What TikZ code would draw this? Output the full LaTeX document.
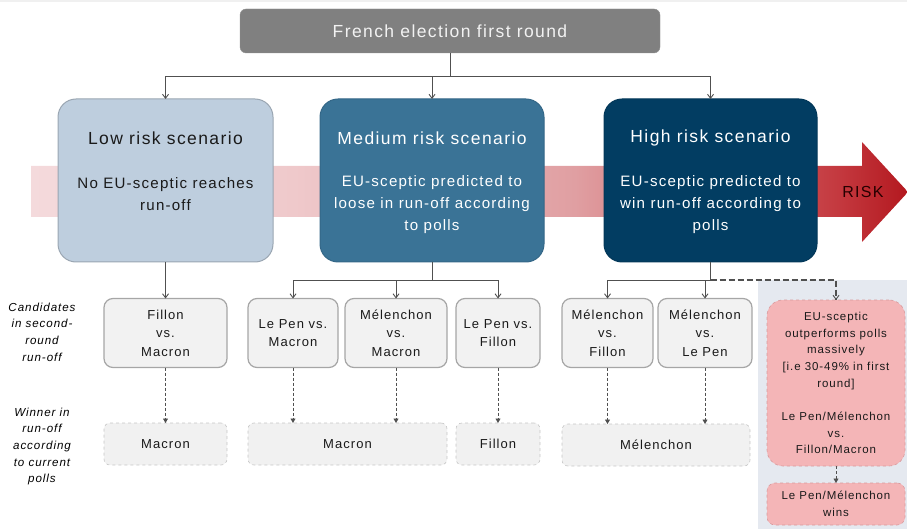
\documentclass[tikz,border=0pt]{standalone}
\usepackage{fontspec}
\setmainfont{Liberation Sans}[LetterSpace=8]
\usetikzlibrary{arrows.meta,calc}
\definecolor{titlefill}{HTML}{808080}
\definecolor{lowfill}{HTML}{BECEDE}
\definecolor{lowdraw}{HTML}{9AA6B2}
\definecolor{medfill}{HTML}{3A7396}
\definecolor{highfill}{HTML}{023D62}
\definecolor{candfill}{HTML}{F2F2F2}
\definecolor{canddraw}{HTML}{A6A6A6}
\definecolor{winfill}{HTML}{F1F1F1}
\definecolor{windraw}{HTML}{C6C6C6}
\definecolor{pinkfill}{HTML}{F4B5B7}
\definecolor{pinkdraw}{HTML}{D99A9D}
\definecolor{panelfill}{HTML}{E5E9F0}
\definecolor{connc}{HTML}{505050}
\definecolor{txt}{HTML}{1A1A1A}
\definecolor{rA}{HTML}{F4DADC}
\definecolor{rB}{HTML}{EFC9CB}
\definecolor{rC}{HTML}{E09FA2}
\definecolor{rD}{HTML}{C4393F}
\definecolor{rE}{HTML}{B3181F}
\definecolor{stripc}{HTML}{F0F0F0}
\pgfdeclarehorizontalshading{riskshade}{100bp}{color(0bp)=(rA); color(25bp)=(rA); color(40bp)=(rB); color(56bp)=(rC); color(71bp)=(rD); color(75bp)=(rE); color(100bp)=(rE)}
\begin{document}
\begin{tikzpicture}[x=1pt,y=-1pt,
  box/.style={inner sep=0pt, outer sep=0pt, align=center},
  titlebox/.style={box, fill=titlefill, draw=titlefill!85!white, rounded corners=6pt, text=white!95!black, font=\fontsize{17.5}{20}\selectfont},
  scen/.style={box, rounded corners=18pt, line width=1pt},
  scentitle/.style={align=center, inner sep=0pt, font=\fontsize{17.5}{20}\selectfont},
  scenbody/.style={align=center, inner sep=0pt, font=\fontsize{15.1}{22}\selectfont},
  cand/.style={box, fill=candfill, draw=canddraw, line width=1.2pt, rounded corners=9pt, text=txt, font=\fontsize{13}{18.5}\selectfont, minimum height=69pt},
  win/.style={box, fill=winfill, draw=windraw, dashed, line width=0.6pt, rounded corners=6pt, text=txt, font=\fontsize{13}{18.5}\selectfont, minimum height=42pt},
  pinkbox/.style={box, fill=pinkfill, draw=pinkdraw, dashed, line width=0.6pt, text=txt, font=\fontsize{11.5}{16.7}\selectfont, minimum width=138pt},
  sidelab/.style={align=center, inner sep=0pt, text=black, font=\fontsize{11.6}{16.7}\selectfont\itshape},
  conn/.style={draw=connc, line width=0.9pt, -{Straight Barb[length=4pt,width=6pt]}},
  hconn/.style={draw=connc, line width=1.4pt, dash pattern=on 6pt off 3pt, -{Straight Barb[length=4pt,width=6pt,line width=0.9pt]}},
  wconn/.style={draw=connc, line width=0.9pt, dash pattern=on 3pt off 2pt, -{Triangle[length=4.5pt,width=5pt]}}
]
\useasboundingbox (0,0) rectangle (907,529);
\fill[stripc] (0,0) rectangle (907,2.5);

% risk arrow
\shade[shading=riskshade] (31,166) -- (862,166) -- (862,142) -- (908,192) -- (862,242) -- (862,217) -- (31,217) -- cycle;
\node[font=\fontsize{16}{16}\selectfont, text=black!85!red, inner sep=0pt] (risk) at (863,192) {RISK};

% right panel
\fill[panelfill] (758,280) rectangle (907,529);

% title
\node[titlebox, minimum width=420pt, minimum height=44pt] (title) at (450,31) {French election first round};

% scenario boxes
\node[scen, fill=lowfill, draw=lowdraw, minimum width=215pt, minimum height=163pt] (low) at (165.5,180.5) {};
\node[scen, fill=medfill, draw=medfill!90!black, minimum width=224pt, minimum height=163pt] (med) at (432,180.5) {};
\node[scen, fill=highfill, draw=highfill!90!black, minimum width=213pt, minimum height=163pt] (high) at (710.5,180.5) {};

\node[scentitle, text=txt] (lowt) at (165.5,138) {Low risk scenario};
\node[scenbody, text=txt] (lowb) at (165.5,194) {No EU-sceptic reaches\\run-off};
\node[scentitle, text=white] (medt) at (432,138) {Medium risk scenario};
\node[scenbody, text=white] (medb) at (432,205) {EU-sceptic predicted to\\loose in run-off according\\to polls};
\node[scentitle, text=white] (hight) at (710.5,138) {High risk scenario};
\node[scenbody, text=white] (highb) at (710.5,205) {EU-sceptic predicted to\\win run-off according to\\polls};

% candidate boxes
\node[cand, minimum width=123pt] (c1) at (165.5,333) {Fillon\\vs.\\Macron};
\node[cand, minimum width=90pt] (c2) at (293,333) {Le Pen vs.\\Macron};
\node[cand, minimum width=102pt] (c3) at (396,333) {Mélenchon\\vs.\\Macron};
\node[cand, minimum width=84pt] (c4) at (498,333) {Le Pen vs.\\Fillon};
\node[cand, minimum width=91pt] (c5) at (607.5,333) {Mélenchon\\vs.\\Fillon};
\node[cand, minimum width=94pt] (c6) at (705,333) {Mélenchon\\vs.\\Le Pen};

% winner boxes
\node[win, minimum width=123pt] (w1) at (165.5,444) {Macron};
\node[win, minimum width=199pt] (w2) at (347.5,444) {Macron};
\node[win, minimum width=84pt] (w3) at (498,444) {Fillon};
\node[win, minimum width=188pt] (w4) at (656,445) {Mélenchon};

% pink boxes
\node[pinkbox, minimum height=166pt, rounded corners=16pt] (p1) at (836,383) {EU-sceptic\\outperforms polls\\massively\\{[i.e 30-49\% in first}\\round]\\[16.7pt]Le Pen/Mélenchon\\vs.\\Fillon/Macron};
\node[pinkbox, minimum height=42pt, rounded corners=8pt] (p2) at (836,504) {Le Pen/Mélenchon\\wins};

% side labels
\node[sidelab] (lab1) at (42,332) {Candidates\\in second-\\round\\run-off};
\node[sidelab] (lab2) at (42,446.5) {Winner in\\run-off\\according\\to current\\polls};

% connectors
\draw[conn] (title.south) -- ++(0,23) -| (low.north);
\draw[conn] (title.south) -- ++(0,23) -| (med.north);
\draw[conn] (title.south) -- ++(0,23) -| (high.north);

\draw[conn] (low.south) -- (c1.north);
\draw[conn] (med.south) -- ++(0,18) -| (c2.north);
\draw[conn] (med.south) -- ++(0,18) -| (c3.north);
\draw[conn] (med.south) -- ++(0,18) -| (c4.north);
\draw[conn] (high.south) -- ++(0,18) -| (c5.north);
\draw[conn] (high.south) -- ++(0,18) -| (c6.north);
\draw[hconn] ($(high.south)+(0,18)$) -| (p1.north);

\draw[wconn] (c1.south) -- (c1.south |- w1.north);
\draw[wconn] (c2.south) -- (c2.south |- w2.north);
\draw[wconn] (c3.south) -- (c3.south |- w2.north);
\draw[wconn] (c4.south) -- (c4.south |- w3.north);
\draw[wconn] (c5.south) -- (c5.south |- w4.north);
\draw[wconn] (c6.south) -- (c6.south |- w4.north);
\draw[wconn] (p1.south) -- (p2.north);
\end{tikzpicture}
\end{document}
